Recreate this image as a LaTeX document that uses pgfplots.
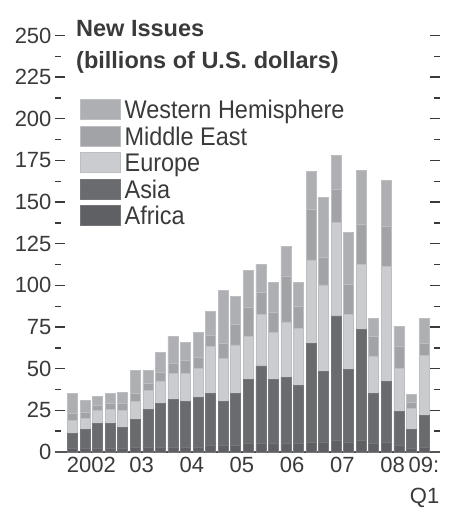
\documentclass[border=0pt]{standalone}
\usepackage{pgfplots}
\pgfplotsset{compat=1.18}
\usepackage{pgfplotstable}
\usepackage{fontspec}
\setmainfont{Liberation Sans}
\newfontfamily\legfont{Liberation Sans}[FakeStretch=0.92]
\definecolor{cwh}{HTML}{AEAFB3}
\definecolor{cme}{HTML}{A2A3A7}
\definecolor{ceu}{HTML}{CBCCCF}
\definecolor{cas}{HTML}{6A6B6E}
\definecolor{caf}{HTML}{5F6063}
\definecolor{coutline}{HTML}{BDBEC1}
\definecolor{cdarkline}{HTML}{75767A}
\definecolor{ctext}{HTML}{3A3A3A}
\definecolor{caxis}{HTML}{555555}

\pgfplotstableread{
x af as eu me wh
0 2 9.4 7.4 4.2 12
1 2 11.4 6.8 3.8 7
2 2 15.4 7.4 3.2 5.5
3 2 15.4 8.4 3.2 6
4 2 12.8 10 4.2 7
5 3 16.4 10.8 4.8 14
6 3 22.4 11.4 4.2 8
7 3 26.2 13.5 5.3 12
8 3 28.4 16 5.6 16.5
9 3 27.2 17.2 7.6 11
10 3 29.8 17.4 6.8 15
11 4 31.2 28.2 6.6 14.5
12 4 26.2 26 8.8 32
13 4 31.4 28.9 12.4 16.8
14 5 38.8 25.6 17.6 22
15 5 46.7 31 13.3 16.7
16 5 38.8 28 11.9 18.3
17 5 39.8 33.3 27.6 17.8
18 5 35.2 34 13.5 14.3
19 6 59.3 50 30.4 22.8
20 6 42.4 51.9 16.4 36.3
21 7 74.7 56 20 20.3
22 6 43.8 32.9 18 31.3
23 7 66.7 39 24 32.3
24 5 30.4 22 12.3 10.3
25 6 36.4 68.9 24.4 27.3
26 4 20.2 26 13.5 11.8
27 2 11.8 12.4 3.8 4.8
28 3 19.2 36 7.1 14.7
}\datatable

\begin{document}
\begin{tikzpicture}
\path[use as bounding box] (0,0) rectangle (450pt,513pt);
\begin{axis}[
  at={(55pt,61pt)}, anchor=south west,
  scale only axis, width=385pt, height=416.5pt,
  xmin=-1.394, xmax=29.275, ymin=0, ymax=250,
  ybar stacked, bar width=10pt,
  axis x line*=bottom,
  separate axis lines,
  x axis line style={draw=caxis, line width=2pt},
  y axis line style={draw=none},
  ytick={0,25,...,250}, minor y tick num=1,
  ytick pos=both, yticklabel pos=left,
  tick align=inside,
  major tick length=10pt, minor tick length=6pt,
  ytick style={color=ctext, line width=1.4pt},
  xtick style={draw=none},
  /pgf/number format/assume math mode=true,
  yticklabel style={font=\fontsize{22}{26}\selectfont, text=ctext},
  xtick={1.5,5.5,9.5,13.5,17.5,21.5,25.5,28},
  xticklabels={2002,03,04,05,06,07,08,{09:\\Q1}},
  xticklabel style={font=\fontsize{22}{31}\selectfont, text=ctext, align=right, yshift=-2pt},
  every axis plot/.append style={line width=0.6pt},
  legend cell align=left, reverse legend,
  legend style={at={(0.06494,0.8475)}, anchor=north west, draw=none, fill=none,
    inner sep=0pt, outer sep=0pt, row sep=5.9pt, column sep=4pt,
    font=\legfont\fontsize{25.5}{26}\selectfont, text=ctext,
    nodes={inner sep=0pt, text height=18.5pt, text depth=0pt}},
  legend image code/.code={\draw[#1] (0pt,-10pt) rectangle (40pt,10pt);},
  clip=false,
]
\addplot[fill=caf, draw=cdarkline] table[x=x, y=af] {\datatable};
\addlegendentry{Africa}
\addplot[fill=cas, draw=cdarkline] table[x=x, y=as] {\datatable};
\addlegendentry{Asia}
\addplot[fill=ceu, draw=coutline] table[x=x, y=eu] {\datatable};
\addlegendentry{Europe}
\addplot[fill=cme, draw=coutline] table[x=x, y=me] {\datatable};
\addlegendentry{Middle East}
\addplot[fill=cwh, draw=coutline] table[x=x, y=wh] {\datatable};
\addlegendentry{Western Hemisphere}
\end{axis}
\node[anchor=base west, inner sep=0pt, text=ctext, font=\bfseries\fontsize{23.5}{28}\selectfont] at (76pt,476.3pt) {New Issues};
\node[anchor=base west, inner sep=0pt, text=ctext, font=\bfseries\fontsize{23.5}{28}\selectfont] at (76pt,444.5pt) {(billions of U.S. dollars)};
\end{tikzpicture}
\end{document}
